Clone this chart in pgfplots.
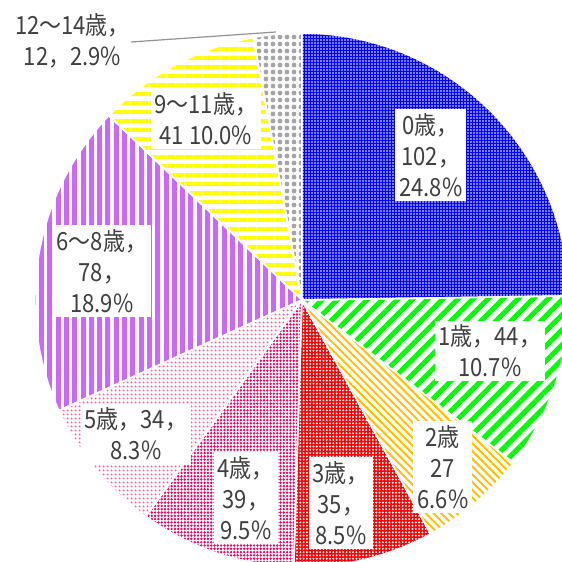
\documentclass[border=0pt]{standalone}
\usepackage{pgfplots}
\pgfplotsset{compat=1.18}
\usepackage{pgfplotstable}
\usetikzlibrary{patterns.meta}
\usepackage{fontspec}
\setmainfont{Noto Sans CJK JP}[FakeStretch=0.88]
\definecolor{txt}{HTML}{404040}
\definecolor{cBlue}{HTML}{0000FF}
\definecolor{cGreen}{HTML}{00FF00}
\definecolor{cOrange}{HTML}{FFC000}
\definecolor{cRed}{HTML}{FF0000}
\definecolor{cHot}{HTML}{F5005F}
\definecolor{cPink}{HTML}{FF5C8D}
\definecolor{cPurple}{HTML}{CC66FF}
\definecolor{cYellow}{HTML}{FFFF00}
\definecolor{cGray}{HTML}{A6A6A6}
\tikzset{
  slice0/.style={preaction={fill=cBlue}, pattern={Dots[radius=0.85pt,distance=3pt]}, pattern color=white},
  slice1/.style={pattern={Lines[angle=45,distance=10.6pt,line width=5pt]}, pattern color=cGreen},
  slice2/.style={pattern={Lines[angle=-45,distance=5.5pt,line width=2pt]}, pattern color=cOrange},
  slice3/.style={preaction={fill=cRed}, pattern={Dots[radius=1.1pt,distance=3.3pt]}, pattern color=white},
  slice4/.style={pattern={Dots[radius=1.35pt,distance=3.3pt]}, pattern color=cHot},
  slice5/.style={pattern={Dots[radius=1.25pt,distance=4pt]}, pattern color=cPink},
  slice6/.style={pattern={Lines[angle=90,distance=8.3pt,line width=5pt]}, pattern color=cPurple},
  slice7/.style={pattern={Lines[angle=0,distance=9pt,line width=4.5pt]}, pattern color=cYellow},
  slice8/.style={pattern={Dots[radius=2.4pt,distance=7pt]}, pattern color=cGray},
  lab/.style={fill=white, text=txt, align=center, inner sep=4pt, font=\fontsize{25}{31}\selectfont},
}
\pgfplotstableread{
label value
0 102
1 44
2 27
3 35
4 39
5 34
6 78
7 41
8 12
}\piedata
\begin{document}
\pgfmathsetmacro\total{0}
\pgfplotsforeachungrouped \i in {0,...,8}{%
  \pgfplotstablegetelem{\i}{value}\of\piedata
  \pgfmathsetmacro\total{\total+\pgfplotsretval}%
}
\def\cum{0}
\pgfplotsforeachungrouped \i in {0,...,8}{%
  \pgfplotstablegetelem{\i}{value}\of\piedata
  \pgfmathsetmacro\a{90-(\cum/\total)*360}%
  \pgfmathsetmacro\cum{\cum+\pgfplotsretval}%
  \pgfmathsetmacro\b{90-(\cum/\total)*360}%
  \expandafter\xdef\csname sa\i\endcsname{\a}%
  \expandafter\xdef\csname sb\i\endcsname{\b}%
}
\begin{tikzpicture}
\begin{axis}[x=1pt, y=1pt, xmin=0, xmax=554, ymin=0, ymax=562,
  scale only axis, hide axis, clip=true]
\path (axis cs:0,0) rectangle (axis cs:554,562);
\pgfplotsinvokeforeach{0,...,8}{
  \fill[overlay, slice#1] (axis cs:294,262) -- ++(\csname sa#1\endcsname:267pt)
    arc[start angle=\csname sa#1\endcsname, end angle=\csname sb#1\endcsname, radius=267pt] -- cycle;
}
\pgfplotsinvokeforeach{0,...,8}{
  \draw[overlay, white, line width=1.6pt] (axis cs:294,262) -- ++(\csname sa#1\endcsname:267pt)
    arc[start angle=\csname sa#1\endcsname, end angle=\csname sb#1\endcsname, radius=267pt] -- cycle;
}
\draw[gray!85, line width=1.2pt] (axis cs:123,520) -- (axis cs:268,530);
\node[lab] at (axis cs:423,407) {0歳，\\102，\\24.8\%};
\node[lab] at (axis cs:482,211) {1歳，44，\\10.7\%};
\node[lab] at (axis cs:435,95) {2歳\\27\\6.6\%};
\node[lab] at (axis cs:333,59) {3歳，\\35，\\8.5\%};
\node[lab] at (axis cs:238,64) {4歳，\\39，\\9.5\%};
\node[lab] at (axis cs:128,128) {5歳，34，\\8.3\%};
\node[lab] at (axis cs:94,291) {6～8歳，\\78，\\18.9\%};
\node[lab] at (axis cs:198,443) {9～11歳，\\41 10.0\%};
\node[lab, fill=none, inner sep=0pt, anchor=west] at (axis cs:7,521) {12～14歳，\\12，2.9\%};
\end{axis}
\end{tikzpicture}
\end{document}
